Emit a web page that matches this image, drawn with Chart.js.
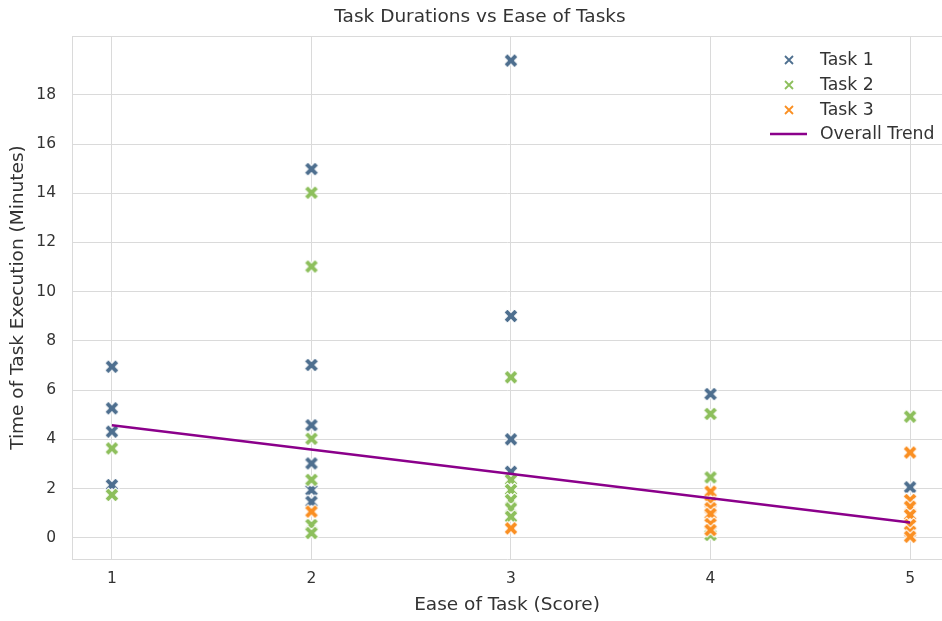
<!DOCTYPE html>
<html>
<head>
<meta charset="utf-8">
<title>Task Durations vs Ease of Tasks</title>
<script src="https://cdn.jsdelivr.net/npm/chart.js@4/dist/chart.umd.min.js"></script>
<style>
  html, body { margin: 0; padding: 0; background: #ffffff; }
  canvas { display: block; }
</style>
</head>
<body>
<canvas id="chart" width="942" height="621"></canvas>
<script>
// Tick values on both axes
const easeTicks = [1, 2, 3, 4, 5];
const minuteTicks = [0, 2, 4, 6, 8, 10, 12, 14, 16, 18];

// Task 1 observations: ease score and duration in minutes
const task1Ease    = [1, 1, 1, 1, 2, 2, 2, 2, 2, 2, 3, 3, 3, 3, 4, 5];
const task1Minutes = [6.95, 5.26, 4.31, 2.14, 14.98, 7.02, 4.57, 3.02, 1.94, 1.46, 19.39, 9.01, 4.0, 2.68, 5.84, 2.05];

// Task 2 observations
const task2Ease    = [1, 1, 2, 2, 2, 2, 2, 2, 3, 3, 3, 3, 3, 3, 4, 4, 4, 5];
const task2Minutes = [3.63, 1.74, 14.02, 11.02, 4.02, 2.35, 0.52, 0.19, 6.52, 2.35, 1.94, 1.53, 1.19, 0.85, 5.03, 2.45, 0.11, 4.92];

// Task 3 observations
const task3Ease    = [2, 3, 4, 4, 4, 4, 4, 4, 5, 5, 5, 5, 5, 5, 5];
const task3Minutes = [1.06, 0.38, 1.87, 1.42, 1.2, 0.97, 0.56, 0.31, 3.46, 1.53, 1.26, 0.92, 0.52, 0.24, 0.04];

// Fitted overall trend, end points
const trendEase = [1, 5];
const trendMinutes = [4.57, 0.62];

const seriesNames  = ['Task 1', 'Task 2', 'Task 3', 'Overall Trend'];
const seriesColors = ['#4e6f8f', '#8dbf5c', '#fa8f22', '#8b008b'];

const FONT = '"DejaVu Sans", "Liberation Sans", sans-serif';
const TEXT = '#333333';
const GRID = '#dadada';

const toPoints = (xs, ys) => xs.map((x, i) => ({ x: x, y: ys[i] }));

// Filled "X" marker with a thin white edge
function xMarker(color, size) {
  const dim = 20;
  const c = document.createElement('canvas');
  c.width = dim; c.height = dim;
  const g = c.getContext('2d');
  g.translate(dim / 2, dim / 2);
  g.rotate(Math.PI / 4);
  const u = size / 6;
  const pts = [[-1,-3],[1,-3],[1,-1],[3,-1],[3,1],[1,1],[1,3],[-1,3],[-1,1],[-3,1],[-3,-1],[-1,-1]];
  g.beginPath();
  pts.forEach(([a, b], i) => i ? g.lineTo(a * u, b * u) : g.moveTo(a * u, b * u));
  g.closePath();
  g.fillStyle = color;
  g.fill();
  g.lineWidth = 1;
  g.strokeStyle = '#ffffff';
  g.stroke();
  return c;
}

const scatterSet = (i, xs, ys, order) => ({
  type: 'scatter',
  label: seriesNames[i],
  data: toPoints(xs, ys),
  pointStyle: xMarker(seriesColors[i], 15),
  pointRadius: 8,
  pointHoverRadius: 8,
  order: order
});

// Title, plot frame and in-plot legend
const decorations = {
  id: 'decorations',
  beforeDatasetsDraw(chart) {
    const { ctx, chartArea: a } = chart;
    ctx.save();
    ctx.strokeStyle = GRID;
    ctx.lineWidth = 1;
    ctx.beginPath();
    ctx.moveTo(a.left, a.top + 0.5);
    ctx.lineTo(a.right, a.top + 0.5);
    ctx.stroke();
    ctx.restore();
  },
  afterDraw(chart) {
    const { ctx, chartArea: a } = chart;
    ctx.save();
    ctx.fillStyle = TEXT;
    ctx.font = '18.5px ' + FONT;
    ctx.textAlign = 'center';
    ctx.textBaseline = 'middle';
    ctx.fillText('Task Durations vs Ease of Tasks', 480, 17);

    const lx = a.right - 153;
    const rowY = [a.top + 24, a.top + 49, a.top + 74, a.top + 98];
    ctx.font = '17.3px ' + FONT;
    ctx.textAlign = 'left';
    for (let i = 0; i < 4; i++) {
      const y = rowY[i];
      ctx.strokeStyle = seriesColors[i];
      ctx.beginPath();
      if (i < 3) {
        ctx.lineWidth = 1.8;
        ctx.moveTo(lx - 4, y - 4); ctx.lineTo(lx + 4, y + 4);
        ctx.moveTo(lx - 4, y + 4); ctx.lineTo(lx + 4, y - 4);
      } else {
        ctx.lineWidth = 2.5;
        ctx.moveTo(lx - 19, y); ctx.lineTo(lx + 18, y);
      }
      ctx.stroke();
      ctx.fillStyle = TEXT;
      ctx.fillText(seriesNames[i], lx + 31, y + 1);
    }
    ctx.restore();
  }
};

new Chart(document.getElementById('chart'), {
  type: 'scatter',
  data: {
    datasets: [
      scatterSet(0, task1Ease, task1Minutes, 3),
      scatterSet(1, task2Ease, task2Minutes, 2),
      scatterSet(2, task3Ease, task3Minutes, 1),
      {
        type: 'line',
        label: seriesNames[3],
        data: toPoints(trendEase, trendMinutes),
        borderColor: seriesColors[3],
        backgroundColor: seriesColors[3],
        borderWidth: 2.5,
        pointRadius: 0,
        fill: false,
        order: 0
      }
    ]
  },
  options: {
    responsive: false,
    devicePixelRatio: 1,
    animation: false,
    layout: { autoPadding: false, padding: { top: 36, left: 0, right: 0, bottom: 0 } },
    plugins: {
      legend: { display: false },
      title: { display: false },
      tooltip: { enabled: false }
    },
    scales: {
      x: {
        type: 'linear',
        min: 0.8,
        max: 5.16,
        afterFit(scale) { scale.height = 62; scale.paddingLeft = 0; scale.paddingRight = 0; },
        afterBuildTicks(scale) { scale.ticks = easeTicks.map(v => ({ value: v })); },
        grid: { color: GRID, lineWidth: 1, drawTicks: false },
        border: { color: GRID, width: 1 },
        ticks: { color: TEXT, font: { family: FONT, size: 15.5 }, padding: 11, callback: v => String(v) },
        title: {
          display: true,
          text: 'Ease of Task (Score)',
          color: TEXT,
          font: { family: FONT, size: 18.5 },
          padding: { top: 0, bottom: 5 }
        }
      },
      y: {
        type: 'linear',
        min: -0.866,
        max: 20.39,
        afterFit(scale) { scale.width = 72; scale.paddingTop = 0; scale.paddingBottom = 0; },
        afterBuildTicks(scale) { scale.ticks = minuteTicks.map(v => ({ value: v })); },
        grid: { color: GRID, lineWidth: 1, drawTicks: false },
        border: { color: GRID, width: 1 },
        ticks: { color: TEXT, font: { family: FONT, size: 15.5 }, padding: 16, callback: v => String(v) },
        title: {
          display: true,
          text: 'Time of Task Execution (Minutes)',
          color: TEXT,
          font: { family: FONT, size: 18.5 },
          padding: { top: 7, bottom: 0 }
        }
      }
    }
  },
  plugins: [decorations]
});
</script>
</body>
</html>
